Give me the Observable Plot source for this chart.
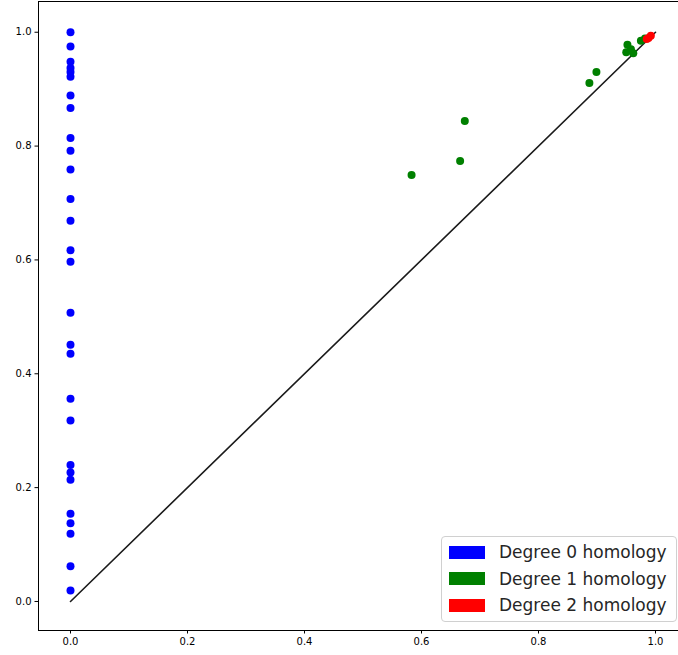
<!DOCTYPE html>
<html><head><meta charset="utf-8">
<script src="https://cdn.jsdelivr.net/npm/d3@7"></script>
<script src="https://cdn.jsdelivr.net/npm/@observablehq/plot@0.6"></script>
<style>
body{margin:0;overflow:hidden;background:#fff;font-family:"DejaVu Sans",sans-serif}
#wrap{position:relative;width:678px;height:655px}
.legend{position:absolute;left:441px;top:536px;width:236px;height:86px;border:1px solid #d0d0d0;border-radius:4px;background:rgba(255,255,255,0.8);box-sizing:border-box}
.item{position:absolute;left:7px;height:20px;display:flex;align-items:center;font-size:17px;color:#262626;white-space:nowrap}
.item .sw{width:36px;height:13px;margin-right:14px}
</style>
</head><body><div id="wrap"></div>
<script>
// Degree 0 homology (birth, death)
const deg0Death = [1.0, 0.975, 0.948, 0.937, 0.93, 0.922, 0.889, 0.867, 0.814, 0.792, 0.759, 0.707, 0.669, 0.617, 0.597, 0.507,
  0.451, 0.435, 0.356, 0.318, 0.2396, 0.2267, 0.2139, 0.154, 0.1376, 0.119, 0.062, 0.0193];
const deg0Birth = deg0Death.map(() => 0);
// Degree 1 homology
const deg1Birth = [0.583, 0.666, 0.674, 0.887, 0.899, 0.952, 0.950, 0.958, 0.962, 0.975, 0.982];
const deg1Death = [0.749, 0.774, 0.844, 0.911, 0.930, 0.978, 0.965, 0.970, 0.963, 0.985, 0.989];
// Degree 2 homology
const deg2Birth = [0.985, 0.988, 0.992];
const deg2Death = [0.988, 0.990, 0.994];
const diagonal = [0, 1];
const ticks = [0, 0.2, 0.4, 0.6, 0.8, 1.0];
const labels = ["Degree 0 homology", "Degree 1 homology", "Degree 2 homology"];
const colors = ["blue", "green", "red"];

const xDomain = [-0.0547, 1.0393];
const yDomain = [-0.051, 1.054];
const pts = (b, d) => b.map((v, i) => ({birth: v, death: d[i]}));

const chart = Plot.plot({
  width: 678, height: 655,
  marginLeft: 38, marginRight: 0, marginTop: 1, marginBottom: 25,
  style: {fontFamily: "DejaVu Sans", fontSize: "10px", color: "#000", background: "#fff"},
  x: {domain: xDomain, label: null},
  y: {domain: yDomain, label: null},
  marks: [
    Plot.axisX({ticks, tickFormat: d => d.toFixed(1), tickSize: 3.5, tickPadding: 3.5, label: null}),
    Plot.axisY({ticks, tickFormat: d => d.toFixed(1), tickSize: 3.5, tickPadding: 3.5, label: null}),
    Plot.ruleX([xDomain[0]], {stroke: "#000", strokeWidth: 1}),
    Plot.ruleY([yDomain[0]], {stroke: "#000", strokeWidth: 1}),
    Plot.ruleY([yDomain[1]], {stroke: "#000", strokeWidth: 1}),
    Plot.line(diagonal, {x: d => d, y: d => d, stroke: "#1a1a1a", strokeWidth: 1.6}),
    Plot.dot(pts(deg0Birth, deg0Death), {x: "birth", y: "death", r: 4, fill: colors[0]}),
    Plot.dot(pts(deg1Birth, deg1Death), {x: "birth", y: "death", r: 4, fill: colors[1]}),
    Plot.dot(pts(deg2Birth, deg2Death), {x: "birth", y: "death", r: 4, fill: colors[2]})
  ]
});
const wrap = document.getElementById("wrap");
wrap.appendChild(chart);
const leg = document.createElement("div");
leg.className = "legend";
labels.forEach((l, i) => {
  const it = document.createElement("div");
  it.className = "item";
  it.style.top = (5 + i * 26.5) + "px";
  const sw = document.createElement("span");
  sw.className = "sw"; sw.style.background = colors[i];
  it.appendChild(sw);
  it.appendChild(document.createTextNode(l));
  leg.appendChild(it);
});
wrap.appendChild(leg);
</script>
</body></html>
